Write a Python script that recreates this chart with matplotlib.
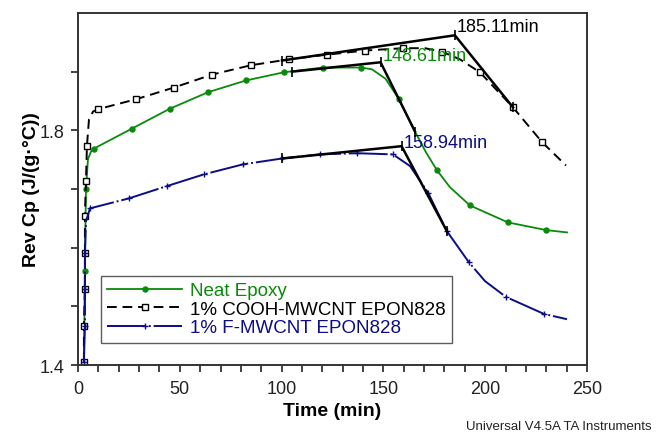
import numpy as np
import matplotlib.pyplot as plt
from matplotlib.ticker import MultipleLocator, FixedLocator

plt.rcParams['font.family'] = ['Liberation Sans', 'DejaVu Sans']

# Neat Epoxy
neat_t = [2.9, 3.4, 3.9, 4.9, 6.4, 7.9, 26.5, 45.2, 63.9, 82.5, 101.2, 120.3, 139.0,
          144.4, 151.0, 157.7, 165.5, 171.0, 176.3, 182.7, 192.5, 211.2, 229.9, 240.2]
neat_cp = [1.405, 1.560, 1.700, 1.751, 1.764, 1.769, 1.803, 1.837, 1.865, 1.885, 1.899,
           1.907, 1.907, 1.904, 1.888, 1.853, 1.798, 1.762, 1.732, 1.703, 1.672, 1.643,
           1.630, 1.626]
neat_marks = [1, 2, 5, 6, 7, 8, 9, 10, 11, 12, 15, 18, 20, 21, 22]

# 1% COOH-MWCNT EPON828
cooh_t = [2.9, 2.9, 3.4, 3.4, 3.4, 3.9, 4.4, 5.4, 7.4, 9.8, 28.5, 47.2, 65.8, 85.0, 103.6,
          122.3, 141.0, 159.6, 170.4, 178.8, 187.6, 197.4, 213.7, 227.9, 239.7]
cooh_cp = [1.405, 1.466, 1.529, 1.591, 1.654, 1.713, 1.774, 1.819, 1.832, 1.836, 1.853,
           1.873, 1.895, 1.911, 1.921, 1.929, 1.936, 1.940, 1.940, 1.934, 1.921, 1.899,
           1.839, 1.780, 1.740]
cooh_marks = [0, 1, 2, 3, 4, 5, 6, 9, 10, 11, 12, 13, 14, 15, 16, 17, 19, 21, 22, 23]

# 1% F-MWCNT EPON828
fm_t = [2.9, 3.4, 3.4, 3.4, 3.9, 5.9, 25.0, 43.7, 61.9, 81.0, 100.2, 118.9, 137.0, 154.7,
        163.1, 171.9, 181.2, 192.0, 199.9, 210.2, 228.9, 240.2]
fm_cp = [1.405, 1.466, 1.529, 1.591, 1.645, 1.667, 1.684, 1.705, 1.725, 1.742, 1.752,
         1.759, 1.761, 1.759, 1.739, 1.694, 1.628, 1.575, 1.543, 1.516, 1.487, 1.478]
fm_marks = [0, 1, 2, 3, 5, 6, 7, 8, 9, 10, 11, 12, 13, 15, 16, 17, 19, 20]

# onset tangent constructions (start, onset, end)
onsets = [185.11, 148.61, 158.94]
tan_t = [[100.2, 185.11, 213.7], [105.1, 148.61, 165.5], [100.2, 158.94, 181.2]]
tan_cp = [[1.919, 1.962, 1.839], [1.900, 1.916, 1.798], [1.752, 1.773, 1.628]]
onset_label_cp = [1.977, 1.928, 1.780]

GREEN = '#0a8a0a'
BLUE = '#0c0c88'
BLACK = '#000000'

fig = plt.figure(figsize=(6.56, 4.35), dpi=100)
ax = fig.add_axes([78 / 656, 69 / 435, 509 / 656, 352 / 435])

ax.plot(neat_t, neat_cp, color=GREEN, lw=1.3, marker='o', ms=3.6,
        markevery=neat_marks, label='Neat Epoxy')
ax.plot(cooh_t, cooh_cp, color=BLACK, lw=1.4, ls=(0, (5, 3)), marker='s', ms=4.4,
        mfc='white', mec=BLACK, mew=1.0, markevery=cooh_marks,
        label='1% COOH-MWCNT EPON828')
ax.plot(fm_t, fm_cp, color=BLUE, lw=1.4, ls=(0, (20, 1.5, 1, 1.5)), marker='+', ms=4.5,
        mew=1.0, markevery=fm_marks, label='1% F-MWCNT EPON828')

for tt, cc in zip(tan_t, tan_cp):
    ax.plot(tt, cc, color='black', lw=1.8, marker='|', ms=7, mew=1.2, zorder=4)

for onset, ycp, col in zip(onsets, onset_label_cp, [BLACK, GREEN, BLUE]):
    ax.text(onset + 1.0, ycp, f'{onset:.2f}min', color=col, fontsize=13,
            ha='left', va='center')

ax.set_xlim(0, 250)
ax.set_ylim(1.4, 2.0)
ax.xaxis.set_major_locator(MultipleLocator(50))
ax.xaxis.set_minor_locator(MultipleLocator(10))
ax.yaxis.set_major_locator(FixedLocator([1.4, 1.8]))
ax.yaxis.set_minor_locator(FixedLocator([1.5, 1.6, 1.7, 1.9]))
ax.tick_params(which='both', direction='out', length=5, width=1.2, top=False, right=False,
               labelsize=13, pad=5, colors='#222222')
ax.tick_params(axis='x', pad=6)
ax.set_yticklabels(['1.4', '1.8'])
for sp in ax.spines.values():
    sp.set_linewidth(1.4)
    sp.set_color('#333333')

ax.set_xlabel('Time (min)', fontsize=14, fontweight='bold')
ax.set_ylabel('Rev Cp (J/(g·°C))', fontsize=14, fontweight='bold')
ax.xaxis.set_label_coords(0.5, -0.105)
ax.yaxis.set_label_coords(-0.075, 0.5)

leg = ax.legend(loc='lower left', bbox_to_anchor=(0.045, 0.0625), fontsize=13.5,
                frameon=True, fancybox=False, handlelength=4.0, handletextpad=0.4,
                labelspacing=0.08, borderpad=0.35, numpoints=1, borderaxespad=0)
leg.get_frame().set_edgecolor('#333333')
leg.get_frame().set_linewidth(1.0)
for txt, col in zip(leg.get_texts(), [GREEN, BLACK, BLUE]):
    txt.set_color(col)

fig.text(0.994, 0.018, 'Universal V4.5A TA Instruments', fontsize=9.5,
         ha='right', va='center', color='#222222')

fig.savefig('out.png', dpi=100)
